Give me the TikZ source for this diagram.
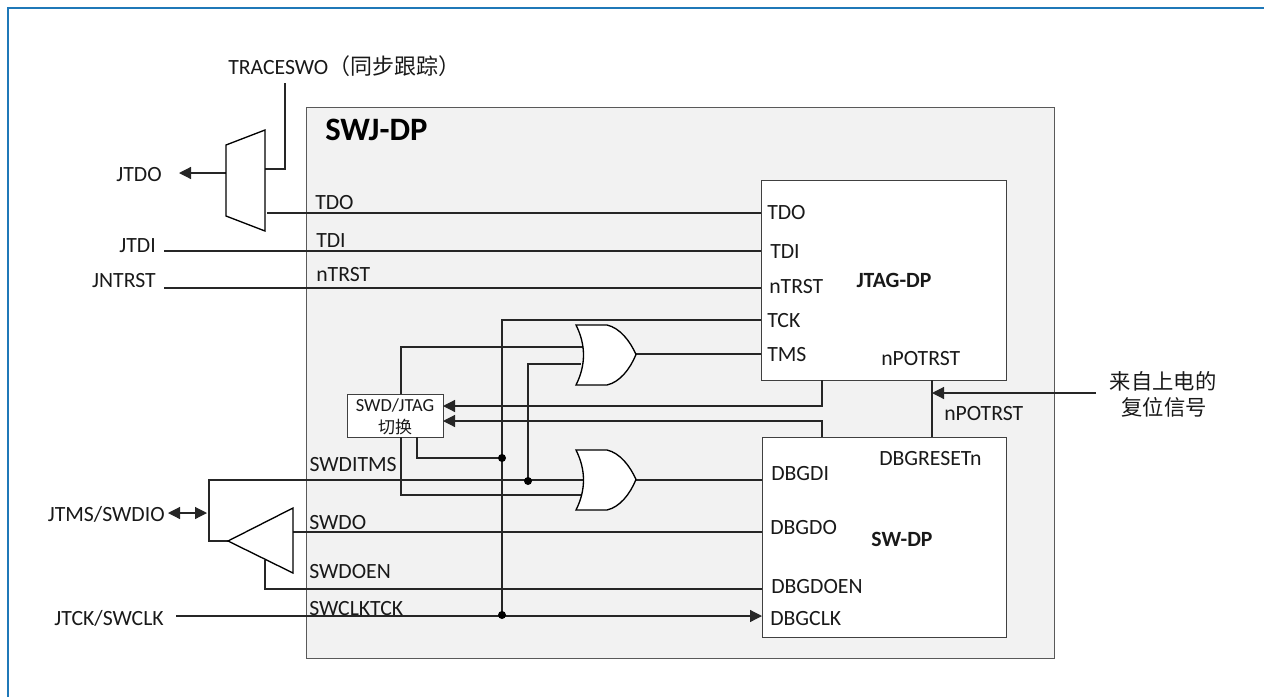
\documentclass[tikz,border=0pt]{standalone}
\usepackage{fontspec}
\setmainfont{Carlito}
\newfontfamily\cjk{Noto Sans CJK SC}
\usetikzlibrary{arrows.meta}
\definecolor{framec}{HTML}{1F78B8}
\tikzset{
  wire/.style={draw=black!85,line width=0.9pt},
  tip/.tip={Triangle[length=9pt,width=9pt]},
  arr/.style={wire,-tip},
  block/.style={draw=black!75,fill=white,line width=0.75pt},
  gate/.style={draw=black,fill=white,line width=1pt,line join=miter},
  lbl/.style={font=\fontsize{16.3}{18}\selectfont,inner sep=0pt,text=black!90},
  ll/.style={lbl,anchor=west},
  dot/.style={circle,fill=black,inner sep=0pt,minimum size=6pt}
}
\begin{document}
\begin{tikzpicture}[x=0.75pt,y=-0.75pt]
\useasboundingbox (0,0) rectangle (1264,697);
\coordinate (f1) at (8,697); \coordinate (f2) at (8,8); \coordinate (f3) at (1264,8);
\draw[draw=framec,line width=1pt] (f1) -- (f2) -- (f3);
\node[draw=black!65,fill=black!5,line width=0.75pt,minimum width=561pt,minimum height=413.25pt,inner sep=0pt,anchor=north west] (dp) at (306,107) {};
\node[block,minimum width=183.75pt,minimum height=150pt,inner sep=0pt,anchor=north west] (jtag) at (761,180) {};
\node[block,minimum width=183pt,minimum height=150pt,inner sep=0pt,anchor=north west] (sw) at (762,437) {};
\node[block,minimum width=72pt,minimum height=32.25pt,inner sep=0pt,anchor=north west,align=center] (sel) at (347,394) {};
% coordinates
\coordinate (tl) at (285,83);
\coordinate (tm) at (285,169);
\coordinate (mr) at (265,169);
\coordinate (jdo) at (179,173);
\coordinate (ml) at (226,173);
% wires
\draw[wire] (tl) -- (tm) -- (mr);
\draw[arr] (ml) -- (jdo);
\coordinate (a1) at (267,213); \draw[wire] (a1) -- (761,213);
\coordinate (a2) at (164,251); \draw[wire] (a2) -- (761,251);
\coordinate (a3) at (164,288); \draw[wire] (a3) -- (761,288);
\coordinate (d1) at (502,458);
\coordinate (d2) at (528,481);
\coordinate (d3) at (502,615);
% TCK bus
\draw[wire] (761,320) -- (502,320) -- (d3);
% upper OR inputs
\draw[wire] (401,394) -- (401,347) -- (583,347);
\draw[wire] (d2) -- (528,364) -- (581,364);
% lower OR inputs
\draw[wire] (401,437) -- (401,495) -- (581,495);
\draw[wire] (417,437) -- (417,458) -- (d1);
% SWDITMS
\draw[wire] (228,541) -- (209,541) -- (209,480) -- (583,480);
% outputs
\draw[wire] (636,354) -- (761,354);
\draw[wire] (636,480) -- (762,480);
\draw[wire] (293,532) -- (762,532);
\draw[wire] (265,560) -- (265,589) -- (762,589);
\draw[arr] (176,616) -- (762,616);
\draw[arr] (822,380) -- (822,406) -- (443,406);
\draw[arr] (822,437) -- (822,421) -- (443,421);
\draw[wire] (932,380) -- (932,437);
\draw[arr] (1096,393) -- (932,393);
\draw[wire,tip-tip] (168,513) -- (207,513);
% symbols
\draw[gate] (226,145) -- (265,130) -- (265,231) -- (226,216) -- cycle;
\draw[gate] (228,541) -- (293,508) -- (293,573) -- cycle;
\foreach \y in {325,450}{
  \draw[gate] (576,\y) -- (607,\y) .. controls (620,\y+3) and (630,\y+16) .. (636,\y+29.5)
     .. controls (630,\y+44) and (620,\y+57) .. (607,\y+60) -- (576,\y+60)
     .. controls (586,\y+40) and (586,\y+20) .. (576,\y) -- cycle;
}
\node[dot] at (d1) {};
\node[dot] at (d2) {};
\node[dot] at (d3) {};
% texts
\node[lbl,anchor=west] (t0) at (228,66) {TRACESWO{\fontsize{16.5}{18}\selectfont\cjk（同步跟踪）}};
\node[font=\fontsize{24.5}{27}\selectfont\bfseries,inner sep=0pt,anchor=west] (t1) at (325,130) {SWJ-DP};
\node[lbl,anchor=east] (t2) at (162,175) {JTDO};
\node[lbl,anchor=east] (t3) at (156,246) {JTDI};
\node[lbl,anchor=east] (t4) at (156,281) {JNTRST};
\node[lbl,anchor=east] (t5) at (165,514) {JTMS/SWDIO};
\node[lbl,anchor=east] (t6) at (164,618) {JTCK/SWCLK};
\node[ll] (s1) at (315,203) {TDO};
\node[ll] (s2) at (316,241) {TDI};
\node[ll] (s3) at (316,275) {nTRST};
\node[lbl,anchor=east] (s4) at (397,465) {SWDITMS};
\node[ll] (s5) at (309,523) {SWDO};
\node[ll] (s6) at (309,572) {SWDOEN};
\node[ll] (s7) at (309,609) {SWCLKTCK};
\node[ll] (j1) at (767,213) {TDO};
\node[ll] (j2) at (770,252) {TDI};
\node[ll] (j3) at (769,287) {nTRST};
\node[ll] (j4) at (767,321) {TCK};
\node[ll] (j5) at (767,355) {TMS};
\node[ll] (j6) at (881,359) {nPOTRST};
\node[lbl,font=\fontsize{16.3}{18}\selectfont\bfseries] (j7) at (894,280) {JTAG-DP};
\node[ll] (w1) at (944,414) {nPOTRST};
\node[ll] (w2) at (879,459) {DBGRESETn};
\node[ll] (w3) at (771,474) {DBGDI};
\node[ll] (w4) at (770,528) {DBGDO};
\node[ll] (w5) at (771,587) {DBGDOEN};
\node[ll] (w6) at (770,619) {DBGCLK};
\node[lbl,font=\fontsize{16.3}{18}\selectfont\bfseries] (w7) at (902,539) {SW-DP};
\node[lbl,font=\fontsize{13.8}{15}\selectfont] (b1) at (395,405) {SWD/JTAG};
\node[lbl,font=\fontsize{12.75}{14}\selectfont\cjk] (b2) at (395,427) {切换};
\node[lbl,font=\fontsize{16}{18}\selectfont\cjk] (r1) at (1163,381) {来自上电的};
\node[lbl,font=\fontsize{16}{18}\selectfont\cjk] (r2) at (1164,407) {复位信号};
\end{tikzpicture}
\end{document}
